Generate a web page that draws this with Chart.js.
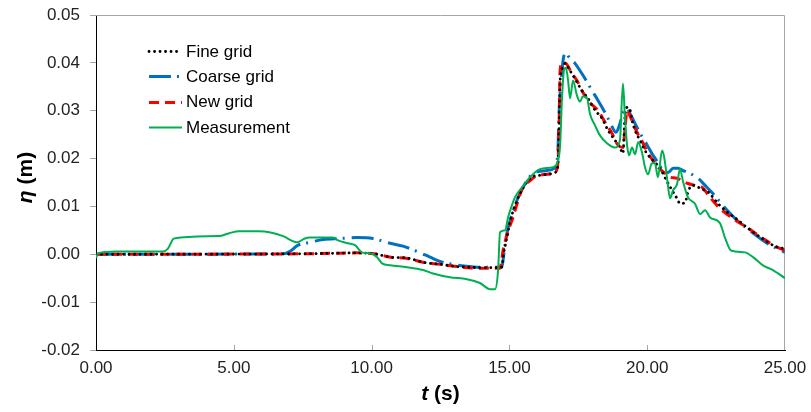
<!DOCTYPE html>
<html>
<head>
<meta charset="utf-8">
<script src="https://cdn.jsdelivr.net/npm/chart.js@4/dist/chart.umd.min.js"></script>
<style>
  html, body { margin: 0; padding: 0; background: #fff; }
  #wrap { width: 811px; height: 412px; }
</style>
</head>
<body>
<div id="wrap"><canvas id="c" width="811" height="412"></canvas></div>
<script>
// Tick values of both axes
const xTicks = [0, 5, 10, 15, 20, 25];
const yTicks = [-0.02, -0.01, 0.00, 0.01, 0.02, 0.03, 0.04, 0.05];

// Series names, in legend order
const seriesNames = ['Fine grid', 'Coarse grid', 'New grid', 'Measurement'];

// Fine grid: time (s) and free-surface elevation (m)
const fineT = [0,7.5,8.5,9.5,10.1,10.7,11.3,11.9,12.5,13.0,13.5,14.0,14.6,14.73,14.77,14.80,14.91,15.02,15.23,15.49,15.80,16.11,16.40,16.65,16.76,16.80,16.84,16.94,17.02,17.13,17.38,17.63,17.85,18.11,18.36,18.58,18.76,19.01,19.12,19.19,19.27,19.38,19.45,19.56,19.74,19.96,20.21,20.46,20.72,20.90,21.08,21.19,21.37,21.50,21.66,21.99,22.21,22.57,22.90,23.26,23.62,24.15,24.71,25.00];
const fineEta = [0,0.0001,0.0002,0.0003,0.0001,-0.0006,-0.0008,-0.0017,-0.0021,-0.0025,-0.0027,-0.0028,-0.0028,-0.0026,-0.0008,0.0004,0.0035,0.0067,0.0106,0.0138,0.0161,0.0165,0.0167,0.0171,0.0186,0.0259,0.0363,0.0390,0.0399,0.0390,0.0367,0.0342,0.0326,0.0301,0.0284,0.0259,0.0244,0.0223,0.0211,0.0286,0.0307,0.0301,0.0280,0.0259,0.0238,0.0213,0.0196,0.0180,0.0152,0.0134,0.0117,0.0106,0.0108,0.0134,0.0144,0.0136,0.0130,0.0106,0.0088,0.0073,0.0056,0.0034,0.0015,0.0012];

// Coarse grid
const coarseT = [0,6.8,7.04,7.33,7.76,8.24,8.85,9.47,10.05,10.67,11.14,11.65,12.12,12.48,12.95,13.46,13.82,14.30,14.73,14.80,14.91,15.11,15.38,15.64,15.86,16.36,16.65,16.76,16.80,16.91,16.98,17.09,17.13,17.38,17.67,18.00,18.21,18.47,18.65,18.87,19.01,19.12,19.27,19.38,19.56,19.74,20.00,20.21,20.39,20.57,20.76,20.94,21.12,21.30,21.48,21.84,22.10,22.35,22.53,22.90,23.26,23.62,24.35,25.00];
const coarseEta = [0,0.0001,0.0006,0.0019,0.0025,0.0031,0.0033,0.0035,0.0033,0.0023,0.0017,0.0006,-0.0006,-0.0015,-0.0021,-0.0025,-0.0027,-0.0027,-0.0027,0.0002,0.0044,0.0086,0.0127,0.0154,0.0169,0.0175,0.0180,0.0217,0.0294,0.0384,0.0415,0.0420,0.0415,0.0399,0.0374,0.0342,0.0322,0.0296,0.0276,0.0255,0.0273,0.0296,0.0305,0.0294,0.0273,0.0253,0.0228,0.0207,0.0192,0.0175,0.0171,0.0180,0.0180,0.0175,0.0171,0.0159,0.0144,0.0129,0.0117,0.0092,0.0071,0.0054,0.0023,0.0004];

// New grid
const newT = [0,7.5,8.5,9.5,10.1,10.7,11.3,11.9,12.5,13.0,13.5,14.0,14.66,14.77,14.95,15.13,15.28,15.49,15.75,15.90,16.11,16.36,16.65,16.76,16.80,16.84,16.91,17.05,17.27,17.45,17.67,17.92,18.21,18.47,18.72,18.94,19.12,19.19,19.27,19.34,19.49,19.63,19.85,20.03,20.21,20.39,20.65,20.83,21.08,21.30,21.48,21.73,21.99,22.28,22.64,23.11,23.62,24.20,24.71,25.00];
const newEta = [0,0.0001,0.0002,0.0003,0.0001,-0.0006,-0.0009,-0.0017,-0.0021,-0.0025,-0.0028,-0.0029,-0.0029,0.0008,0.0048,0.0077,0.0106,0.0140,0.0154,0.0161,0.0165,0.0167,0.0171,0.0192,0.0259,0.0384,0.0401,0.0399,0.0378,0.0363,0.0338,0.0317,0.0301,0.0276,0.0253,0.0228,0.0223,0.0259,0.0301,0.0294,0.0273,0.0255,0.0232,0.0211,0.0196,0.0182,0.0169,0.0161,0.0159,0.0152,0.0148,0.0144,0.0140,0.0119,0.0096,0.0075,0.0056,0.0033,0.0015,0.0008];

// Measured gauge record
const measT = [0,0.07,0.73,2.43,2.61,2.83,4.46,4.83,5.19,5.91,6.79,7.08,7.29,7.58,7.76,8.60,8.78,9.14,9.40,9.65,9.94,10.20,10.38,10.67,11.28,11.87,12.23,12.84,13.46,13.93,14.30,14.48,14.59,14.66,14.84,14.95,15.09,15.20,15.46,15.75,16.11,16.58,16.73,16.84,16.91,16.98,17.05,17.13,17.20,17.31,17.45,17.56,17.67,17.82,17.92,18.11,18.29,18.54,18.83,19.01,19.12,19.19,19.27,19.34,19.45,19.56,19.67,19.81,19.92,20.03,20.17,20.28,20.39,20.54,20.61,20.72,20.83,20.94,21.08,21.19,21.30,21.48,21.73,21.92,22.10,22.28,22.64,22.82,23.04,23.55,23.84,24.20,24.56,25.00];
const measEta = [-0.0008,0.0002,0.0006,0.0006,0.0012,0.0033,0.0038,0.0044,0.0048,0.0048,0.0038,0.0029,0.0025,0.0033,0.0035,0.0035,0.0029,0.0023,0.0019,0.0004,0.0002,-0.0006,-0.0019,-0.0023,-0.0027,-0.0033,-0.0040,-0.0048,-0.0052,-0.0060,-0.0073,-0.0073,-0.0033,0.0046,0.0050,0.0077,0.0102,0.0119,0.0140,0.0161,0.0178,0.0182,0.0190,0.0228,0.0328,0.0384,0.0390,0.0363,0.0326,0.0363,0.0332,0.0319,0.0330,0.0326,0.0294,0.0269,0.0248,0.0232,0.0223,0.0238,0.0357,0.0290,0.0228,0.0207,0.0223,0.0209,0.0234,0.0213,0.0182,0.0167,0.0190,0.0190,0.0161,0.0217,0.0205,0.0159,0.0117,0.0134,0.0146,0.0178,0.0152,0.0119,0.0106,0.0084,0.0092,0.0077,0.0065,0.0035,0.0008,0.0004,-0.0006,-0.0023,-0.0033,-0.0050];

const pairs = (ts, vs) => ts.map((t, i) => ({ x: t, y: vs[i] }));

const FONT = "'Liberation Sans', Arial, sans-serif";
const GREY = '#a6a6a6';

const line = (label, data, color, width, dash, cap, order) => ({
  label, data, borderColor: color, backgroundColor: color, borderWidth: width,
  borderDash: dash, borderCapStyle: cap, borderJoinStyle: 'round',
  pointRadius: 0, fill: false, cubicInterpolationMode: 'monotone', order
});

const datasets = [
  line(seriesNames[0], pairs(fineT, fineEta), '#000000', 2.8, [0.1, 5.4], 'round', 1),
  line(seriesNames[1], pairs(coarseT, coarseEta), '#0070C0', 3, [22, 6, 2, 7], 'butt', 3),
  line(seriesNames[2], pairs(newT, newEta), '#FF0000', 3, [10, 6], 'butt', 2),
  line(seriesNames[3], pairs(measT, measEta), '#00B050', 2, [], 'butt', 0)
];

// Plot frame (grey top/right edges) and inward x tick marks
const framePlugin = {
  id: 'frame',
  beforeDatasetsDraw(chart) {
    const { ctx, chartArea: a, scales } = chart;
    ctx.save();
    ctx.strokeStyle = GREY;
    ctx.lineWidth = 1;
    ctx.beginPath();
    ctx.moveTo(a.left, a.top + 0.5);
    ctx.lineTo(a.right - 0.5, a.top + 0.5);
    ctx.lineTo(a.right - 0.5, a.bottom);
    xTicks.slice(1, -1).forEach(v => {
      const px = Math.round(scales.x.getPixelForValue(v)) + 0.5;
      ctx.moveTo(px, a.bottom);
      ctx.lineTo(px, a.bottom - 5);
    });
    ctx.stroke();
    ctx.restore();
  }
};

// Draws a label made of differently styled parts
function drawParts(ctx, parts, cx, cy) {
  let total = 0;
  parts.forEach(p => { ctx.font = p.font; p.w = ctx.measureText(p.text).width; total += p.w; });
  let x = cx - total / 2;
  ctx.textBaseline = 'middle';
  ctx.textAlign = 'left';
  parts.forEach(p => { ctx.font = p.font; ctx.fillText(p.text, x, cy); x += p.w; });
}

// Axis titles with italic symbols
const titlePlugin = {
  id: 'axisTitles',
  afterDraw(chart) {
    const { ctx, chartArea: a } = chart;
    ctx.save();
    ctx.fillStyle = '#000';
    const bi = `italic bold 21px ${FONT}`, b = `bold 21px ${FONT}`;
    drawParts(ctx, [{ text: 't', font: bi }, { text: ' (s)', font: b }], (a.left + a.right) / 2, 394);
    ctx.translate(26, (a.top + a.bottom) / 2 - 5);
    ctx.rotate(-Math.PI / 2);
    drawParts(ctx, [{ text: 'η', font: bi }, { text: ' (m)', font: b }], 0, 0);
    ctx.restore();
  }
};

// Legend box inside the plot area
const insetLegend = {
  id: 'insetLegend',
  afterDatasetsDraw(chart) {
    const { ctx, chartArea: a } = chart;
    ctx.save();
    const x0 = a.left + 53, x1 = a.left + 86, tx = a.left + 90;
    chart.data.datasets.forEach((ds, i) => {
      const y = a.top + 36 + i * 25.3;
      ctx.beginPath();
      ctx.setLineDash(ds.borderDash);
      ctx.lineDashOffset = 0;
      ctx.lineCap = ds.borderCapStyle;
      ctx.lineWidth = ds.borderWidth;
      ctx.strokeStyle = ds.borderColor;
      ctx.moveTo(x0, Math.round(y) + 0.5);
      ctx.lineTo(x1, Math.round(y) + 0.5);
      ctx.stroke();
      ctx.setLineDash([]);
      ctx.fillStyle = '#000';
      ctx.font = `17px ${FONT}`;
      ctx.textBaseline = 'middle';
      ctx.textAlign = 'left';
      ctx.fillText(ds.label, tx, y + 1);
    });
    ctx.restore();
  }
};

new Chart(document.getElementById('c'), {
  type: 'line',
  data: { datasets },
  plugins: [framePlugin, insetLegend, titlePlugin],
  options: {
    responsive: false,
    animation: false,
    events: [],
    layout: { padding: { left: 0, right: 26, top: 15, bottom: 0 } },
    plugins: { legend: { display: false }, tooltip: { enabled: false }, title: { display: false } },
    scales: {
      x: {
        type: 'linear',
        min: xTicks[0],
        max: xTicks[xTicks.length - 1],
        afterBuildTicks: s => { s.ticks = xTicks.map(v => ({ value: v })); },
        afterFit: s => { s.height = 62; s.paddingLeft = 0; s.paddingRight = 0; },
        grid: { drawOnChartArea: false, drawTicks: false },
        border: { color: '#000', width: 1 },
        ticks: { padding: 8, color: '#222', font: { family: FONT, size: 17 }, maxRotation: 0,
                 callback: v => v.toFixed(2) }
      },
      y: {
        type: 'linear',
        min: yTicks[0],
        max: yTicks[yTicks.length - 1],
        afterBuildTicks: s => { s.ticks = yTicks.map(v => ({ value: v })); },
        afterFit: s => { s.width = 96; s.paddingTop = 0; s.paddingBottom = 0; },
        grid: { drawOnChartArea: false, drawTicks: true, tickLength: 6, tickColor: GREY },
        border: { color: '#000', width: 1 },
        ticks: { padding: 10, color: '#222', font: { family: FONT, size: 17 },
                 callback: v => (Math.abs(v) < 1e-9 ? 0 : v).toFixed(2) }
      }
    }
  }
});
</script>
</body>
</html>
